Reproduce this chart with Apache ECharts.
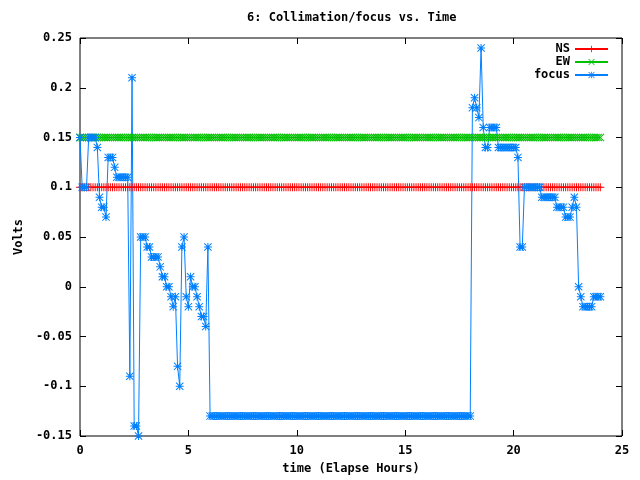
<!DOCTYPE html>
<html>
<head>
<meta charset="utf-8">
<title>6: Collimation/focus vs. Time</title>
<script src="https://cdn.jsdelivr.net/npm/echarts@6/dist/echarts.min.js"></script>
<style>
  html, body { margin: 0; padding: 0; background: #fff; }
  #chart { width: 640px; height: 480px; }
</style>
</head>
<body>
<div id="chart"></div>
<script>
// sample times (hours), one sample every 6 minutes
const hours = [
  0.0, 0.1, 0.2, 0.3, 0.4, 0.5, 0.6, 0.7, 0.8, 0.9,
  1.0, 1.1, 1.2, 1.3, 1.4, 1.5, 1.6, 1.7, 1.8, 1.9,
  2.0, 2.1, 2.2, 2.3, 2.4, 2.5, 2.6, 2.7, 2.8, 2.9,
  3.0, 3.1, 3.2, 3.3, 3.4, 3.5, 3.6, 3.7, 3.8, 3.9,
  4.0, 4.1, 4.2, 4.3, 4.4, 4.5, 4.6, 4.7, 4.8, 4.9,
  5.0, 5.1, 5.2, 5.3, 5.4, 5.5, 5.6, 5.7, 5.8, 5.9,
  6.0, 6.1, 6.2, 6.3, 6.4, 6.5, 6.6, 6.7, 6.8, 6.9,
  7.0, 7.1, 7.2, 7.3, 7.4, 7.5, 7.6, 7.7, 7.8, 7.9,
  8.0, 8.1, 8.2, 8.3, 8.4, 8.5, 8.6, 8.7, 8.8, 8.9,
  9.0, 9.1, 9.2, 9.3, 9.4, 9.5, 9.6, 9.7, 9.8, 9.9,
  10.0, 10.1, 10.2, 10.3, 10.4, 10.5, 10.6, 10.7, 10.8, 10.9,
  11.0, 11.1, 11.2, 11.3, 11.4, 11.5, 11.6, 11.7, 11.8, 11.9,
  12.0, 12.1, 12.2, 12.3, 12.4, 12.5, 12.6, 12.7, 12.8, 12.9,
  13.0, 13.1, 13.2, 13.3, 13.4, 13.5, 13.6, 13.7, 13.8, 13.9,
  14.0, 14.1, 14.2, 14.3, 14.4, 14.5, 14.6, 14.7, 14.8, 14.9,
  15.0, 15.1, 15.2, 15.3, 15.4, 15.5, 15.6, 15.7, 15.8, 15.9,
  16.0, 16.1, 16.2, 16.3, 16.4, 16.5, 16.6, 16.7, 16.8, 16.9,
  17.0, 17.1, 17.2, 17.3, 17.4, 17.5, 17.6, 17.7, 17.8, 17.9,
  18.0, 18.1, 18.2, 18.3, 18.4, 18.5, 18.6, 18.7, 18.8, 18.9,
  19.0, 19.1, 19.2, 19.3, 19.4, 19.5, 19.6, 19.7, 19.8, 19.9,
  20.0, 20.1, 20.2, 20.3, 20.4, 20.5, 20.6, 20.7, 20.8, 20.9,
  21.0, 21.1, 21.2, 21.3, 21.4, 21.5, 21.6, 21.7, 21.8, 21.9,
  22.0, 22.1, 22.2, 22.3, 22.4, 22.5, 22.6, 22.7, 22.8, 22.9,
  23.0, 23.1, 23.2, 23.3, 23.4, 23.5, 23.6, 23.7, 23.8, 23.9,
  24.0
];

const ns = [
  0.1, 0.1, 0.1, 0.1, 0.1, 0.1, 0.1, 0.1, 0.1, 0.1, 0.1, 0.1, 0.1, 0.1, 0.1, 0.1, 0.1, 0.1, 0.1, 0.1,
  0.1, 0.1, 0.1, 0.1, 0.1, 0.1, 0.1, 0.1, 0.1, 0.1, 0.1, 0.1, 0.1, 0.1, 0.1, 0.1, 0.1, 0.1, 0.1, 0.1,
  0.1, 0.1, 0.1, 0.1, 0.1, 0.1, 0.1, 0.1, 0.1, 0.1, 0.1, 0.1, 0.1, 0.1, 0.1, 0.1, 0.1, 0.1, 0.1, 0.1,
  0.1, 0.1, 0.1, 0.1, 0.1, 0.1, 0.1, 0.1, 0.1, 0.1, 0.1, 0.1, 0.1, 0.1, 0.1, 0.1, 0.1, 0.1, 0.1, 0.1,
  0.1, 0.1, 0.1, 0.1, 0.1, 0.1, 0.1, 0.1, 0.1, 0.1, 0.1, 0.1, 0.1, 0.1, 0.1, 0.1, 0.1, 0.1, 0.1, 0.1,
  0.1, 0.1, 0.1, 0.1, 0.1, 0.1, 0.1, 0.1, 0.1, 0.1, 0.1, 0.1, 0.1, 0.1, 0.1, 0.1, 0.1, 0.1, 0.1, 0.1,
  0.1, 0.1, 0.1, 0.1, 0.1, 0.1, 0.1, 0.1, 0.1, 0.1, 0.1, 0.1, 0.1, 0.1, 0.1, 0.1, 0.1, 0.1, 0.1, 0.1,
  0.1, 0.1, 0.1, 0.1, 0.1, 0.1, 0.1, 0.1, 0.1, 0.1, 0.1, 0.1, 0.1, 0.1, 0.1, 0.1, 0.1, 0.1, 0.1, 0.1,
  0.1, 0.1, 0.1, 0.1, 0.1, 0.1, 0.1, 0.1, 0.1, 0.1, 0.1, 0.1, 0.1, 0.1, 0.1, 0.1, 0.1, 0.1, 0.1, 0.1,
  0.1, 0.1, 0.1, 0.1, 0.1, 0.1, 0.1, 0.1, 0.1, 0.1, 0.1, 0.1, 0.1, 0.1, 0.1, 0.1, 0.1, 0.1, 0.1, 0.1,
  0.1, 0.1, 0.1, 0.1, 0.1, 0.1, 0.1, 0.1, 0.1, 0.1, 0.1, 0.1, 0.1, 0.1, 0.1, 0.1, 0.1, 0.1, 0.1, 0.1,
  0.1, 0.1, 0.1, 0.1, 0.1, 0.1, 0.1, 0.1, 0.1, 0.1, 0.1, 0.1, 0.1, 0.1, 0.1, 0.1, 0.1, 0.1, 0.1, 0.1,
  0.1
];

const ew = [
  0.15, 0.15, 0.15, 0.15, 0.15, 0.15, 0.15, 0.15, 0.15, 0.15, 0.15, 0.15, 0.15, 0.15, 0.15, 0.15, 0.15, 0.15, 0.15, 0.15,
  0.15, 0.15, 0.15, 0.15, 0.15, 0.15, 0.15, 0.15, 0.15, 0.15, 0.15, 0.15, 0.15, 0.15, 0.15, 0.15, 0.15, 0.15, 0.15, 0.15,
  0.15, 0.15, 0.15, 0.15, 0.15, 0.15, 0.15, 0.15, 0.15, 0.15, 0.15, 0.15, 0.15, 0.15, 0.15, 0.15, 0.15, 0.15, 0.15, 0.15,
  0.15, 0.15, 0.15, 0.15, 0.15, 0.15, 0.15, 0.15, 0.15, 0.15, 0.15, 0.15, 0.15, 0.15, 0.15, 0.15, 0.15, 0.15, 0.15, 0.15,
  0.15, 0.15, 0.15, 0.15, 0.15, 0.15, 0.15, 0.15, 0.15, 0.15, 0.15, 0.15, 0.15, 0.15, 0.15, 0.15, 0.15, 0.15, 0.15, 0.15,
  0.15, 0.15, 0.15, 0.15, 0.15, 0.15, 0.15, 0.15, 0.15, 0.15, 0.15, 0.15, 0.15, 0.15, 0.15, 0.15, 0.15, 0.15, 0.15, 0.15,
  0.15, 0.15, 0.15, 0.15, 0.15, 0.15, 0.15, 0.15, 0.15, 0.15, 0.15, 0.15, 0.15, 0.15, 0.15, 0.15, 0.15, 0.15, 0.15, 0.15,
  0.15, 0.15, 0.15, 0.15, 0.15, 0.15, 0.15, 0.15, 0.15, 0.15, 0.15, 0.15, 0.15, 0.15, 0.15, 0.15, 0.15, 0.15, 0.15, 0.15,
  0.15, 0.15, 0.15, 0.15, 0.15, 0.15, 0.15, 0.15, 0.15, 0.15, 0.15, 0.15, 0.15, 0.15, 0.15, 0.15, 0.15, 0.15, 0.15, 0.15,
  0.15, 0.15, 0.15, 0.15, 0.15, 0.15, 0.15, 0.15, 0.15, 0.15, 0.15, 0.15, 0.15, 0.15, 0.15, 0.15, 0.15, 0.15, 0.15, 0.15,
  0.15, 0.15, 0.15, 0.15, 0.15, 0.15, 0.15, 0.15, 0.15, 0.15, 0.15, 0.15, 0.15, 0.15, 0.15, 0.15, 0.15, 0.15, 0.15, 0.15,
  0.15, 0.15, 0.15, 0.15, 0.15, 0.15, 0.15, 0.15, 0.15, 0.15, 0.15, 0.15, 0.15, 0.15, 0.15, 0.15, 0.15, 0.15, 0.15, 0.15,
  0.15
];

const focus = [
  0.15, 0.10, 0.10, 0.10, 0.15, 0.15, 0.15, 0.15, 0.14, 0.09,
  0.08, 0.08, 0.07, 0.13, 0.13, 0.13, 0.12, 0.11, 0.11, 0.11,
  0.11, 0.11, 0.11, -0.09, 0.21, -0.14, -0.14, -0.15, 0.05, 0.05,
  0.05, 0.04, 0.04, 0.03, 0.03, 0.03, 0.03, 0.02, 0.01, 0.01,
  0.00, 0.00, -0.01, -0.02, -0.01, -0.08, -0.10, 0.04, 0.05, -0.01,
  -0.02, 0.01, 0.00, 0.00, -0.01, -0.02, -0.03, -0.03, -0.04, 0.04,
  -0.13, -0.13, -0.13, -0.13, -0.13, -0.13, -0.13, -0.13, -0.13, -0.13,
  -0.13, -0.13, -0.13, -0.13, -0.13, -0.13, -0.13, -0.13, -0.13, -0.13,
  -0.13, -0.13, -0.13, -0.13, -0.13, -0.13, -0.13, -0.13, -0.13, -0.13,
  -0.13, -0.13, -0.13, -0.13, -0.13, -0.13, -0.13, -0.13, -0.13, -0.13,
  -0.13, -0.13, -0.13, -0.13, -0.13, -0.13, -0.13, -0.13, -0.13, -0.13,
  -0.13, -0.13, -0.13, -0.13, -0.13, -0.13, -0.13, -0.13, -0.13, -0.13,
  -0.13, -0.13, -0.13, -0.13, -0.13, -0.13, -0.13, -0.13, -0.13, -0.13,
  -0.13, -0.13, -0.13, -0.13, -0.13, -0.13, -0.13, -0.13, -0.13, -0.13,
  -0.13, -0.13, -0.13, -0.13, -0.13, -0.13, -0.13, -0.13, -0.13, -0.13,
  -0.13, -0.13, -0.13, -0.13, -0.13, -0.13, -0.13, -0.13, -0.13, -0.13,
  -0.13, -0.13, -0.13, -0.13, -0.13, -0.13, -0.13, -0.13, -0.13, -0.13,
  -0.13, -0.13, -0.13, -0.13, -0.13, -0.13, -0.13, -0.13, -0.13, -0.13,
  -0.13, 0.18, 0.19, 0.18, 0.17, 0.24, 0.16, 0.14, 0.14, 0.16,
  0.16, 0.16, 0.16, 0.14, 0.14, 0.14, 0.14, 0.14, 0.14, 0.14,
  0.14, 0.14, 0.13, 0.04, 0.04, 0.10, 0.10, 0.10, 0.10, 0.10,
  0.10, 0.10, 0.10, 0.09, 0.09, 0.09, 0.09, 0.09, 0.09, 0.09,
  0.08, 0.08, 0.08, 0.08, 0.07, 0.07, 0.07, 0.08, 0.09, 0.08,
  0.00, -0.01, -0.02, -0.02, -0.02, -0.02, -0.02, -0.01, -0.01, -0.01,
  -0.01
];

const xTicks = { min: 0, max: 25, interval: 5 };
const yTicks = { min: -0.15, max: 0.25, interval: 0.05 };

// gnuplot-like point glyphs
const PLUS = 'path://M3.5,0H4.5V3.5H8V4.5H4.5V8H3.5V4.5H0V3.5H3.5Z';
const CROSS = 'path://M0,0.7L0.7,0L4,3.3L7.3,0L8,0.7L4.7,4L8,7.3L7.3,8L4,4.7L0.7,8L0,7.3L3.3,4Z';
const STAR = PLUS + CROSS.replace('path://', '');

const FONT = { fontFamily: 'DejaVu Sans Mono', fontSize: 12, fontWeight: 'bold', color: '#000' };

function lineSeries(name, values, color, symbol) {
  return {
    name, type: 'line', data: hours.map((h, i) => [h, values[i]]),
    symbol, symbolSize: 8, showAllSymbol: true,
    lineStyle: { color, width: 1 }, itemStyle: { color },
    animation: false
  };
}

function legendFor(name, top) {
  return {
    data: [name], orient: 'vertical', align: 'right', right: 31, top,
    itemWidth: 33, itemHeight: 8, padding: 0, selectedMode: false,
    textStyle: FONT
  };
}

function xAxis(position, withLabels) {
  return {
    type: 'value', position, ...xTicks,
    axisLine: { show: false, onZero: false },
    axisTick: { inside: true, length: 6, lineStyle: { color: '#000' } },
    axisLabel: { show: withLabels, margin: 9, ...FONT },
    splitLine: { show: false },
    name: withLabels ? 'time (Elapse Hours)' : '', nameLocation: 'middle', nameGap: 27,
    nameTextStyle: FONT
  };
}

function yAxis(position, withLabels) {
  return {
    type: 'value', position, ...yTicks,
    axisLine: { show: false, onZero: false },
    axisTick: { inside: true, length: 6, lineStyle: { color: '#000' } },
    axisLabel: { show: withLabels, margin: 8, ...FONT, formatter: v => String(+v.toFixed(2)) },
    splitLine: { show: false },
    name: withLabels ? 'Volts' : '', nameLocation: 'middle', nameGap: 44,
    nameTextStyle: FONT
  };
}

const chart = echarts.init(document.getElementById('chart'), null, { renderer: 'canvas' });
chart.setOption({
  backgroundColor: '#fff',
  animation: false,
  title: { text: '6: Collimation/focus vs. Time', left: 247, top: 12, padding: 0, textStyle: FONT },
  grid: { left: 80, right: 18, top: 38, bottom: 42, show: true, borderColor: '#000', borderWidth: 1 },
  legend: [legendFor('NS', 43), legendFor('EW', 56), legendFor('focus', 69)],
  xAxis: [xAxis('bottom', true), xAxis('top', false)],
  yAxis: [yAxis('left', true), yAxis('right', false)],
  series: [
    lineSeries('NS', ns, '#ff0000', PLUS),
    lineSeries('EW', ew, '#00c000', CROSS),
    lineSeries('focus', focus, '#0080ff', STAR)
  ]
});
</script>
</body>
</html>
